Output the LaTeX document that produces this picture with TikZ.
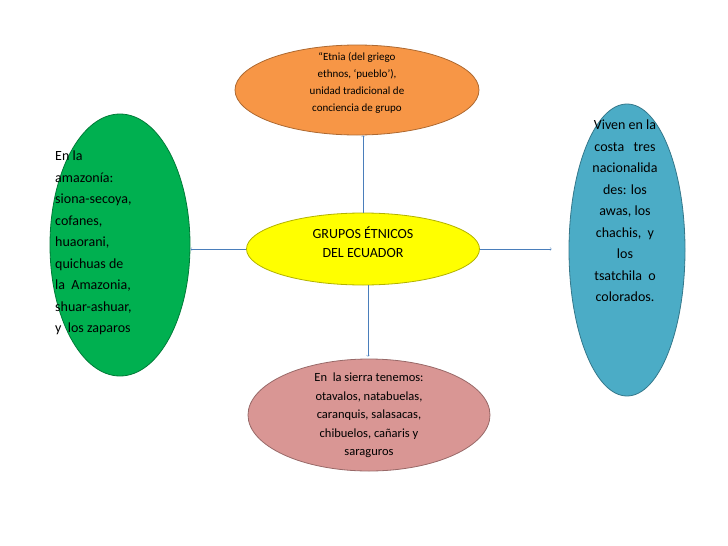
\documentclass[tikz,border=0pt]{standalone}
\usepackage{fontspec}
\setmainfont{Carlito}
\usetikzlibrary{shapes.geometric}
\begin{document}
\begin{tikzpicture}[x=1pt, y=-1pt,
grupo/.style={ellipse, draw=#1!70!black, fill=#1, thick, inner sep=0pt},
texto/.style={inner sep=0pt, align=center, anchor=north},
flecha/.style={->, draw=azul, thin},
]
\useasboundingbox (0,0) rectangle (728,546);
\definecolor{naranja}{RGB}{247,150,70}
\definecolor{amarillo}{RGB}{255,255,0}
\definecolor{verde}{RGB}{0,176,80}
\definecolor{celeste}{RGB}{75,172,198}
\definecolor{rosa}{RGB}{217,150,148}
\definecolor{azul}{RGB}{74,126,187}
%Nodes
\node[grupo=amarillo, minimum width=233pt, minimum height=72pt] (centro) at (363,249) {};
\node[grupo=naranja, minimum width=244pt, minimum height=90pt] (etnia) at (357,90) {};
\node[grupo=verde, minimum width=140pt, minimum height=262pt] (amazonia) at (120,245) {};
\node[grupo=celeste, minimum width=116pt, minimum height=292pt] (costa) at (627,250) {};
\node[grupo=rosa, minimum width=242pt, minimum height=112pt] (sierra) at (369,415) {};

\node[texto, font=\fontsize{14}{19}\selectfont] (centrot) at (363,227) {GRUPOS ÉTNICOS\\DEL ECUADOR};
\node[texto, font=\fontsize{11}{17}\selectfont] (etniat) at (357,52)
      {“Etnia (del griego\\ethnos, ‘pueblo’),\\unidad tradicional de\\conciencia de grupo};
\node[texto, anchor=north west, align=left, font=\fontsize{14}{21.5}\selectfont] (amazoniat) at (55,151)
      {En la\\amazonía:\\siona-secoya,\\cofanes,\\huaorani,\\quichuas de\\la~ Amazonia,\\shuar-ashuar,\\y~ los zaparos};
\node[texto, font=\fontsize{14}{21.5}\selectfont] (costat) at (625,120)
      {Viven en la\\costa~~ tres\\nacionalida\\des: los\\awas, los\\chachis,~ y\\los\\tsatchila~ o\\colorados.};
\node[texto, font=\fontsize{12.5}{18.5}\selectfont] (sierrat) at (369,373)
      {En~ la sierra tenemos:\\otavalos, natabuelas,\\caranquis, salasacas,\\chibuelos, cañaris y\\saraguros};

%Lines
\draw[flecha] (centro.north) -- (centro.north |- etnia.south);
\draw[flecha] (centro.west) -- (centro.west -| amazonia.east);
\draw[flecha] (centro.east) -- ([xshift=-17pt]centro.east -| costa.west);
\draw[flecha] ([xshift=5pt]centro.south) -- ([xshift=5pt,yshift=2pt]centro.south |- sierra.north);

\end{tikzpicture}
\end{document}
